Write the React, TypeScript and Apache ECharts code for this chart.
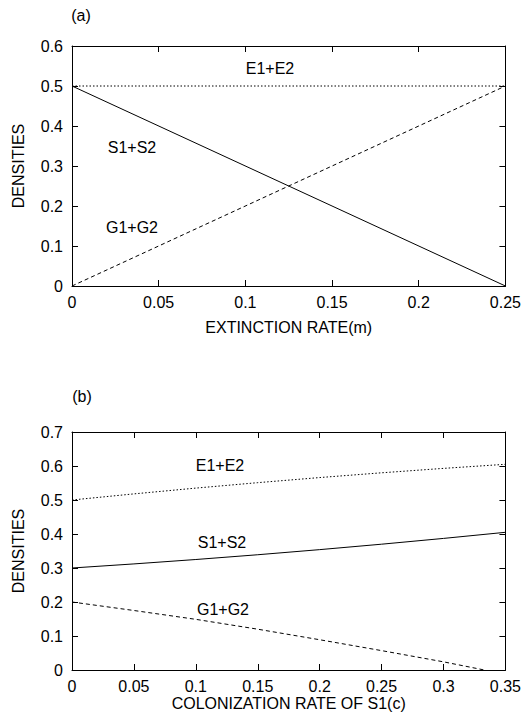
import React, { useEffect, useRef } from "react";
import * as echarts from "echarts";

// Panel (a)
const mA = [0, 0.125, 0.25];
const eA = [0.5, 0.5, 0.5];
const sA = [0.5, 0.25, 0];
const gA = [0, 0.25, 0.5];
const xTicksA = [0, 0.05, 0.1, 0.15, 0.2, 0.25];
const yTicksA = [0, 0.1, 0.2, 0.3, 0.4, 0.5, 0.6];

// Panel (b)
const cB = [0, 0.05, 0.1, 0.15, 0.2, 0.25, 0.3, 0.35];
const eB = [0.5, 0.518, 0.535, 0.551, 0.566, 0.58, 0.593, 0.605];
const sB = [0.3, 0.312, 0.325, 0.339, 0.354, 0.37, 0.387, 0.405];
const cGB = [0, 0.05, 0.1, 0.15, 0.2, 0.25, 0.3, 0.333];
const gB = [0.2, 0.175, 0.149, 0.12, 0.089, 0.057, 0.024, 0];
const xTicksB = [0, 0.05, 0.1, 0.15, 0.2, 0.25, 0.3, 0.35];
const yTicksB = [0, 0.1, 0.2, 0.3, 0.4, 0.5, 0.6, 0.7];

const FONT = "Liberation Sans, Arial, Helvetica, sans-serif";
const FS = 16;

const zip = (xs: number[], ys: number[]) => xs.map((x, i) => [x, ys[i]]);

export default function App() {
  const ref = useRef<HTMLDivElement>(null);
  useEffect(() => {
    if (!ref.current) return;
    const chart = echarts.init(ref.current, undefined, { renderer: "svg" });
    const axisLine = { show: true, onZero: false, lineStyle: { color: "#000", width: 1 } };
    const tick = { show: true, inside: true, length: 6, lineStyle: { color: "#000", width: 1 } };
    const label = { color: "#000", fontFamily: FONT, fontSize: FS };
    const fmt = (v: number) => String(Number(v.toFixed(3)));
    const mkX = (grid: number, ticks: number[], name: string, gap: number) => [
      {
        type: "value", gridIndex: grid, position: "bottom", min: ticks[0], max: ticks[ticks.length - 1], interval: 0.05,
        axisLine, axisTick: tick, splitLine: { show: false },
        axisLabel: { ...label, margin: 8, formatter: fmt },
        name, nameLocation: "middle", nameGap: gap,
        nameTextStyle: { color: "#000", fontFamily: FONT, fontSize: FS },
      },
      {
        type: "value", gridIndex: grid, position: "top", min: ticks[0], max: ticks[ticks.length - 1], interval: 0.05,
        axisLine, axisTick: tick, splitLine: { show: false }, axisLabel: { show: false },
      },
    ];
    const mkY = (grid: number, ticks: number[]) => [
      {
        type: "value", gridIndex: grid, position: "left", min: 0, max: ticks[ticks.length - 1], interval: 0.1,
        axisLine, axisTick: tick, splitLine: { show: false },
        axisLabel: { ...label, margin: 9, formatter: fmt },
        name: "DENSITIES", nameLocation: "middle", nameGap: 46, nameRotate: 90,
        nameTextStyle: { color: "#000", fontFamily: FONT, fontSize: FS },
      },
      {
        type: "value", gridIndex: grid, position: "right", min: 0, max: ticks[ticks.length - 1], interval: 0.1,
        axisLine, axisTick: tick, splitLine: { show: false }, axisLabel: { show: false },
      },
    ];
    const line = (xi: number, yi: number, data: number[][], type: any) => ({
      type: "line", xAxisIndex: xi, yAxisIndex: yi, data, showSymbol: false, symbol: "none",
      lineStyle: { color: "#000", width: 1, type }, silent: true,
    });
    const txt = (x: number, y: number, t: string) => ({
      type: "text", x, y,
      style: { text: t, fill: "#000", font: `${FS}px ${FONT}`, align: "center", verticalAlign: "middle" },
    });
    chart.setOption({
      animation: false,
      backgroundColor: "#fff",
      grid: [
        { left: 72, top: 46, width: 438, height: 240 },
        { left: 72, top: 432, width: 438, height: 238 },
      ],
      xAxis: [...mkX(0, xTicksA, "EXTINCTION RATE(m)", 33), ...mkX(1, xTicksB, "COLONIZATION RATE OF S1(c)", 25)],
      yAxis: [...mkY(0, yTicksA), ...mkY(1, yTicksB)],
      series: [
        line(0, 0, zip(mA, eA), [1.5, 2]),
        line(0, 0, zip(mA, sA), "solid"),
        line(0, 0, zip(mA, gA), [4, 3]),
        line(2, 2, zip(cB, eB), [1.5, 2]),
        line(2, 2, zip(cB, sB), "solid"),
        line(2, 2, zip(cGB, gB), [4, 3]),
      ],
      graphic: [
        txt(81, 15, "(a)"),
        txt(270, 68, "E1+E2"),
        txt(132, 147, "S1+S2"),
        txt(132, 227, "G1+G2"),
        txt(82, 396, "(b)"),
        txt(220, 465, "E1+E2"),
        txt(222, 542, "S1+S2"),
        txt(223, 609, "G1+G2"),
      ],
    });
    return () => chart.dispose();
  }, []);
  return (
    <div
      ref={ref}
      style={{ position: "absolute", left: 0, top: 0, width: 524, height: 720, background: "#fff" }}
    />
  );
}
